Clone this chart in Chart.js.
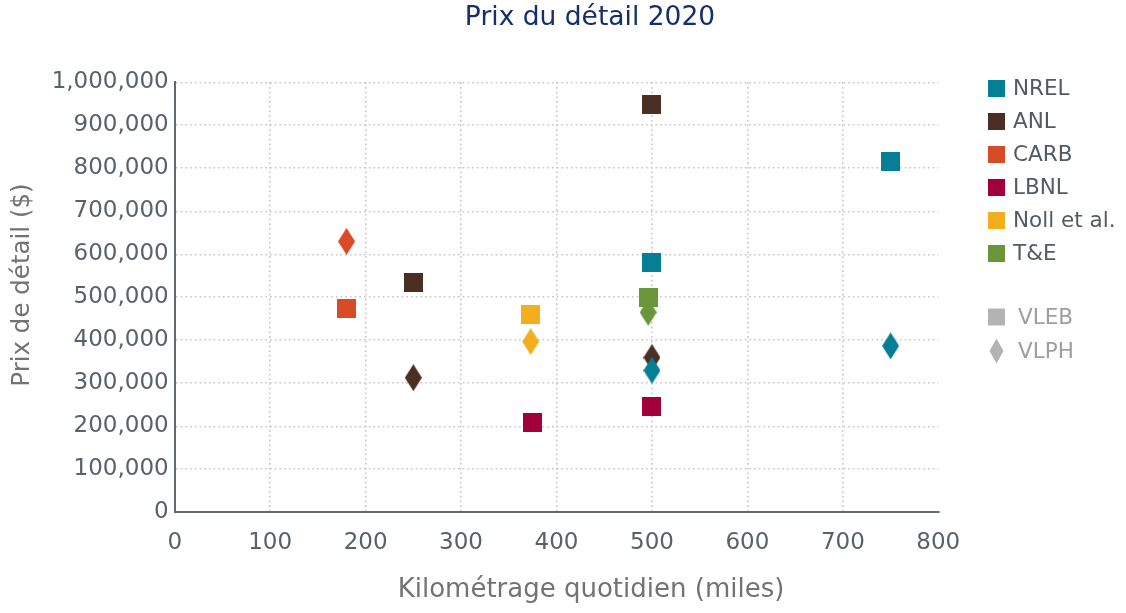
<!DOCTYPE html>
<html>
<head>
<meta charset="utf-8">
<script src="https://cdn.jsdelivr.net/npm/chart.js@4.4.1/dist/chart.umd.min.js"></script>
<style>
  html, body { margin: 0; padding: 0; background: #ffffff; }
  #wrap { width: 1126px; height: 613px; position: relative; }
</style>
</head>
<body>
<div id="wrap"><canvas id="chart" width="1126" height="613"></canvas></div>
<script>
// ---------- texts ----------
const chartTitle = 'Prix du détail 2020';
const xAxisTitle = 'Kilométrage quotidien (miles)';
const yAxisTitle = 'Prix de détail ($)';

// ---------- axes ----------
const xTickValues = [0, 100, 200, 300, 400, 500, 600, 700, 800];
const yTickValues = [0, 100000, 200000, 300000, 400000, 500000, 600000, 700000, 800000, 900000, 1000000];

// ---------- series ----------
const sources = ['NREL', 'ANL', 'CARB', 'LBNL', 'Noll et al.', 'T&E'];
const sourceColors = ['#057f95', '#4b2f25', '#d84b27', '#a1003a', '#f2ae1d', '#6a963b'];
const vehicleTypes = ['VLEB', 'VLPH'];

// VLEB (squares): daily miles / retail price ($)
const nrelVlebMiles = [500, 750];
const nrelVlebPrice = [580000, 815000];
const anlVlebMiles = [250, 500];
const anlVlebPrice = [535000, 949000];
const carbVlebMiles = [180];
const carbVlebPrice = [474000];
const lbnlVlebMiles = [375, 500];
const lbnlVlebPrice = [210000, 247000];
const nollVlebMiles = [373];
const nollVlebPrice = [461000];
const teVlebMiles = [496];
const teVlebPrice = [500000];

// VLPH (diamonds)
const nrelVlphMiles = [500, 750];
const nrelVlphPrice = [330000, 387000];
const anlVlphMiles = [250, 500];
const anlVlphPrice = [313000, 360000];
const carbVlphMiles = [180];
const carbVlphPrice = [630000];
const lbnlVlphMiles = [];
const lbnlVlphPrice = [];
const nollVlphMiles = [373];
const nollVlphPrice = [397000];
const teVlphMiles = [496];
const teVlphPrice = [465000];

const vlebMiles = [nrelVlebMiles, anlVlebMiles, carbVlebMiles, lbnlVlebMiles, nollVlebMiles, teVlebMiles];
const vlebPrice = [nrelVlebPrice, anlVlebPrice, carbVlebPrice, lbnlVlebPrice, nollVlebPrice, teVlebPrice];
const vlphMiles = [nrelVlphMiles, anlVlphMiles, carbVlphMiles, lbnlVlphMiles, nollVlphMiles, teVlphMiles];
const vlphPrice = [nrelVlphPrice, anlVlphPrice, carbVlphPrice, lbnlVlphPrice, nollVlphPrice, teVlphPrice];

// ---------- styling ----------
const FONT = "'DejaVu Sans', sans-serif";
const tickColor = '#57626b';
const axisTitleColor = '#737373';
const titleColor = '#142f6b';
const legendGray = '#b3b3b6';

function squareImg(color, size) {
  const c = document.createElement('canvas');
  c.width = size; c.height = size;
  const g = c.getContext('2d');
  g.fillStyle = color;
  g.fillRect(0, 0, size, size);
  return c;
}
function diamondImg(color, w, h) {
  const c = document.createElement('canvas');
  c.width = w; c.height = h;
  const g = c.getContext('2d');
  g.fillStyle = color;
  g.beginPath();
  g.moveTo(w / 2, 0);
  g.lineTo(w, h / 2);
  g.lineTo(w / 2, h);
  g.lineTo(0, h / 2);
  g.closePath();
  g.fill();
  return c;
}

function toPoints(xs, ys) {
  return xs.map((x, i) => ({ x: x, y: ys[i] }));
}

const datasets = [];
// diamonds first, squares on top
sources.forEach((name, i) => {
  datasets.push({
    label: name + ' ' + vehicleTypes[1],
    data: toPoints(vlphMiles[i], vlphPrice[i]),
    pointStyle: diamondImg(sourceColors[i], 17, 27),
    pointRadius: 10,
    backgroundColor: sourceColors[i],
    borderColor: sourceColors[i]
  });
});
sources.forEach((name, i) => {
  datasets.push({
    label: name + ' ' + vehicleTypes[0],
    data: toPoints(vlebMiles[i], vlebPrice[i]),
    pointStyle: squareImg(sourceColors[i], 19),
    pointRadius: 10,
    backgroundColor: sourceColors[i],
    borderColor: sourceColors[i]
  });
});

const decorPlugin = {
  id: 'decor',
  afterDraw(chart) {
    const ctx = chart.ctx;
    ctx.save();
    // title
    ctx.fillStyle = titleColor;
    ctx.font = "26.5px " + FONT;
    ctx.textAlign = 'center';
    ctx.textBaseline = 'middle';
    ctx.fillText(chartTitle, 590, 18);
    // x axis title
    ctx.fillStyle = axisTitleColor;
    ctx.font = "26px " + FONT;
    ctx.fillText(xAxisTitle, 591, 590);
    // y axis title
    ctx.save();
    ctx.translate(23, 285);
    ctx.rotate(-Math.PI / 2);
    ctx.font = "24.5px " + FONT;
    ctx.fillText(yAxisTitle, 0, 0);
    ctx.restore();

    // legend
    const rowY = [88, 121, 154, 187, 220, 253];
    ctx.textAlign = 'left';
    ctx.font = "21.5px " + FONT;
    sources.forEach((name, i) => {
      ctx.fillStyle = sourceColors[i];
      ctx.fillRect(988, rowY[i] - 8, 17, 17);
      ctx.fillStyle = '#515b63';
      ctx.fillText(name, 1013, rowY[i] + 1);
    });
    const typeY = [317, 351];
    ctx.fillStyle = legendGray;
    ctx.fillRect(988, typeY[0] - 8.5, 17, 17);
    ctx.beginPath();
    ctx.moveTo(996.5, typeY[1] - 12.5);
    ctx.lineTo(1003.5, typeY[1]);
    ctx.lineTo(996.5, typeY[1] + 12.5);
    ctx.lineTo(989.5, typeY[1]);
    ctx.closePath();
    ctx.fill();
    ctx.fillStyle = '#9e9e9e';
    vehicleTypes.forEach((t, i) => {
      ctx.fillText(t, 1018, typeY[i] + 1);
    });
    ctx.restore();
  }
};

new Chart(document.getElementById('chart'), {
  type: 'scatter',
  data: { datasets: datasets },
  plugins: [decorPlugin],
  options: {
    responsive: false,
    animation: false,
    devicePixelRatio: 1,
    locale: 'en-US',
    layout: { padding: { left: 0, right: 187.7, top: 82.3, bottom: 0 } },
    plugins: {
      legend: { display: false },
      title: { display: false },
      tooltip: { enabled: false }
    },
    scales: {
      x: {
        type: 'linear',
        min: xTickValues[0],
        max: xTickValues[xTickValues.length - 1],
        afterBuildTicks(scale) { scale.ticks = xTickValues.map(v => ({ value: v })); },
        afterFit(scale) { scale.height = 100.7; },
        ticks: {
          color: tickColor,
          font: { family: FONT, size: 23 },
          padding: 17,
          maxRotation: 0
        },
        grid: {
          drawTicks: false,
          lineWidth: 1.6,
          color: (c) => (c.tick && (c.tick.value === 0 || c.tick.value === 800)) ? 'rgba(0,0,0,0)' : '#c8c8c8'
        },
        border: { display: true, color: '#5e6a72', width: 2, dash: [1.7, 3.0] }
      },
      y: {
        type: 'linear',
        min: yTickValues[0],
        max: yTickValues[yTickValues.length - 1],
        afterBuildTicks(scale) { scale.ticks = yTickValues.map(v => ({ value: v })); },
        afterFit(scale) { scale.width = 174.7; },
        ticks: {
          color: tickColor,
          font: { family: FONT, size: 23 },
          padding: 6,
          callback: (v) => v.toLocaleString('en-US')
        },
        grid: {
          drawTicks: false,
          lineWidth: 1.6,
          color: (c) => (c.tick && c.tick.value === 0) ? 'rgba(0,0,0,0)' : '#c8c8c8'
        },
        border: { display: true, color: '#5e6a72', width: 2, dash: [1.7, 3.0] }
      }
    }
  }
});
</script>
</body>
</html>
